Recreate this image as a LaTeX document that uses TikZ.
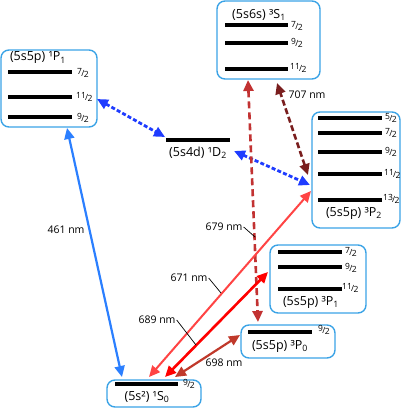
\documentclass[tikz,border=0pt]{standalone}
\usepackage{fontspec}
\setmainfont{Open Sans}
\usetikzlibrary{arrows.meta}
\definecolor{boxblue}{HTML}{3BA3E6}
\definecolor{dotblue}{HTML}{1F3CFF}
\definecolor{lineblue}{HTML}{2B7FFF}
\definecolor{fire}{HTML}{C23232}
\definecolor{maroon}{HTML}{7A1E1E}
\definecolor{lightred}{HTML}{FF4444}
\definecolor{purered}{HTML}{FF0000}
\definecolor{brick}{HTML}{C0392B}
\newcommand{\fr}[2]{{\fontsize{8.5}{8.5}\selectfont\raisebox{0.35ex}{#1}\kern-0.08em/\kern-0.08em\raisebox{-0.3ex}{#2}}}
\begin{document}
\begin{tikzpicture}[x=1pt,y=-1pt,
  boxframe/.style={draw=boxblue,line width=1.4pt,rounded corners=8pt},
  lvl/.style={line width=3.1pt},
  lvllab/.style={anchor=west,inner sep=0pt},
  title/.style={font=\fontsize{12.5}{14}\selectfont,inner sep=0pt},
  wl/.style={font=\fontsize{10.5}{12}\selectfont,inner sep=1pt},
  hd/.style={{Triangle[length=11pt,width=10pt]}-{Triangle[length=11pt,width=10pt]}},
  dotarrow/.style={draw=dotblue,line width=2.8pt,dash pattern=on 4pt off 2.2pt,hd},
  leader/.style={line width=0.7pt}
]
\useasboundingbox (0,0) rectangle (407,409);
% boxes
\draw[boxframe] (1,50) rectangle (97,127);
\draw[boxframe] (217,1) rectangle (320,79);
\draw[boxframe] (312,112) rectangle (400,228);
\draw[boxframe] (270,245) rectangle (366,313);
\draw[boxframe] (241,325) rectangle (335,358);
\draw[boxframe] (107,380) rectangle (201,407);
% levels 1P1
\draw[lvl] (8,72) -- (72,72); \node[lvllab] (l1) at (77,73) {\fr{7}{2}};
\draw[lvl] (8,97) -- (72,97); \node[lvllab] (l2) at (76,97) {\fr{11}{2}};
\draw[lvl] (8,117) -- (72,117); \node[lvllab] (l3) at (77,118) {\fr{9}{2}};
\node[title] (tP1) at (38,58) {(5s5p) ¹P\textsubscript{1}};
% 3S1
\draw[lvl] (225,25) -- (288,25); \node[lvllab] (s1) at (291,26) {\fr{7}{2}};
\draw[lvl] (225,43) -- (288,43); \node[lvllab] (s2) at (291,43) {\fr{9}{2}};
\draw[lvl] (225,69) -- (288,69); \node[lvllab] (s3) at (290,68) {\fr{11}{2}};
\node[title] (tS1) at (259,15) {(5s6s) ³S\textsubscript{1}};
% 3P2
\draw[lvl] (318,118) -- (382,118); \node[lvllab] (p1) at (385,118) {\fr{5}{2}};
\draw[lvl] (318,133) -- (382,133); \node[lvllab] (p2) at (385,133) {\fr{7}{2}};
\draw[lvl] (318,152) -- (382,152); \node[lvllab] (p3) at (385,152) {\fr{9}{2}};
\draw[lvl] (318,174) -- (382,174); \node[lvllab] (p4) at (384,174) {\fr{11}{2}};
\draw[lvl] (318,200) -- (382,200); \node[lvllab] (p5) at (383,199) {\fr{13}{2}};
\node[title] (tP2) at (354,213) {(5s5p) ³P\textsubscript{2}};
% 3P1
\draw[lvl] (278,252) -- (342,252); \node[lvllab] (q1) at (345,252) {\fr{7}{2}};
\draw[lvl] (278,267) -- (342,267); \node[lvllab] (q2) at (345,268) {\fr{9}{2}};
\draw[lvl] (278,289) -- (342,289); \node[lvllab] (q3) at (342,288) {\fr{11}{2}};
\node[title] (tP1t) at (311,302) {(5s5p) ³P\textsubscript{1}};
% 3P0
\draw[lvl] (248,332) -- (312,332); \node[lvllab] (r1) at (318,330) {\fr{9}{2}};
\node[title] (tP0) at (280,346) {(5s5p) ³P\textsubscript{0}};
% 1S0
\draw[lvl] (115,384) -- (178,384); \node[lvllab] (z1) at (183,384) {\fr{9}{2}};
\node[title] (tS0) at (147,397) {(5s²) ¹S\textsubscript{0}};
% 1D2
\draw[lvl] (166,140) -- (230,140);
\node[title] (tD2) at (198,153) {(5s4d) ¹D\textsubscript{2}};
% arrow end points
\coordinate (aP1) at (97,99); \coordinate (aD2l) at (165,137);
\coordinate (aD2r) at (234,151); \coordinate (aP2b) at (310,185);
\coordinate (aP1b) at (67,128); \coordinate (aS0a) at (122,377);
\coordinate (aS1a) at (248,80); \coordinate (aP0t) at (258,322);
\coordinate (aP2m) at (308,175); \coordinate (aS1b) at (277,83);
\coordinate (aS0b) at (149,377); \coordinate (aP2c) at (311,191);
\coordinate (aS0c) at (165,377); \coordinate (aP1tl) at (268,272);
\coordinate (aS0d) at (175,377); \coordinate (aP0l) at (240,335);
% arrows
\draw[dotarrow] (aP1) -- (aD2l);
\draw[dotarrow] (aD2r) -- (aP2b);
\draw[lineblue,line width=2.2pt,hd] (aP1b) -- (aS0a);
\draw[fire,line width=2.6pt,dash pattern=on 7pt off 4pt,hd] (aS1a) -- (aP0t);
\draw[maroon,line width=2.6pt,dash pattern=on 6pt off 3pt,hd] (aP2m) -- (aS1b);
\draw[lightred,line width=2pt,hd] (aS0b) -- (aP2c);
\draw[purered,line width=2.6pt,hd] (aS0c) -- (aP1tl);
\draw[brick,line width=2.2pt,hd] (aS0d) -- (aP0l);
% wavelength labels
\node[wl] (w461) at (66,230) {461 nm};
\node[wl] (w707) at (307,95) {707 nm};
\node[wl] (w679) at (224,227) {679 nm};
\node[wl] (w671) at (189,278) {671 nm};
\node[wl] (w689) at (157,320) {689 nm};
\node[wl] (w698) at (224,363) {698 nm};
\coordinate (c679) at (255,237);
\coordinate (c671) at (221,293);
\coordinate (c689) at (196,345);
\draw[leader] (w679.east) -- (c679);
\draw[leader] (w671.east) -- (c671);
\draw[leader] (w689.east) -- (c689);
\end{tikzpicture}
\end{document}
